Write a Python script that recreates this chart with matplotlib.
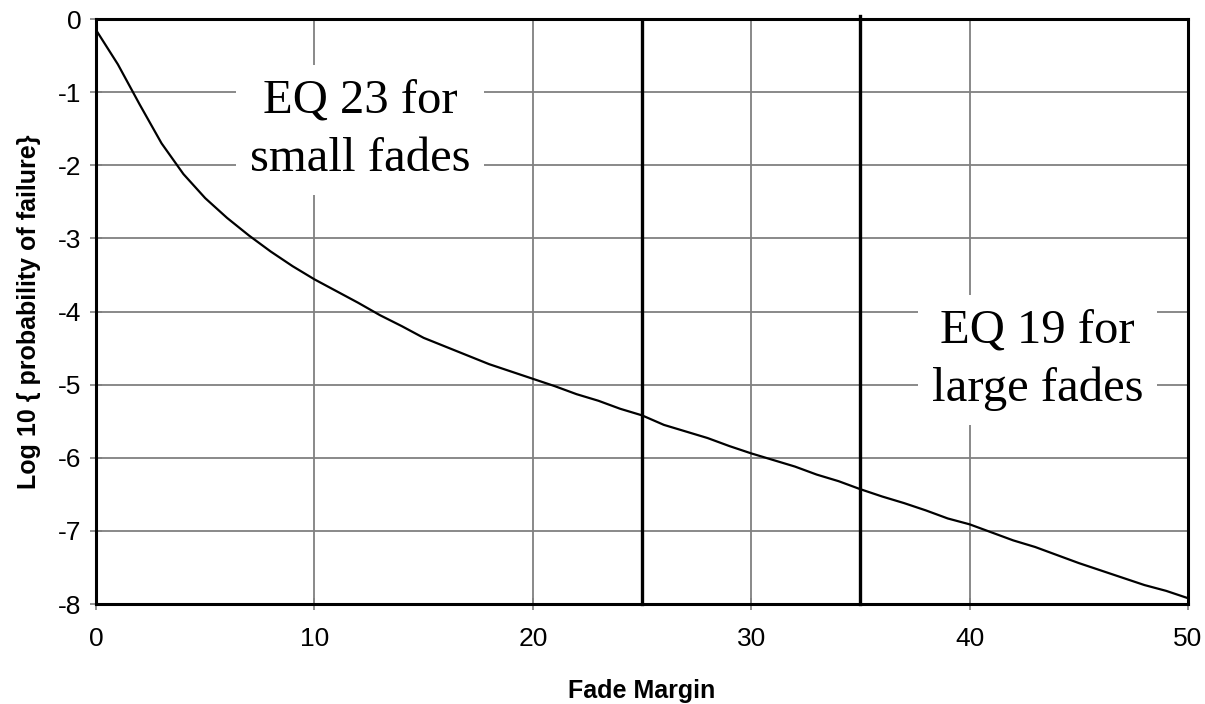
import matplotlib
matplotlib.use("Agg")
import matplotlib.pyplot as plt

fade_margin = list(range(0, 51))
log_pf = [-0.15, -0.62, -1.17, -1.70, -2.12, -2.45, -2.72, -2.96, -3.18, -3.38,
          -3.56, -3.72, -3.88, -4.05, -4.20, -4.36, -4.48, -4.60, -4.72, -4.82,
          -4.92, -5.02, -5.13, -5.22, -5.33, -5.42, -5.55, -5.64, -5.73, -5.84,
          -5.94, -6.03, -6.12, -6.23, -6.32, -6.43, -6.53, -6.62, -6.72, -6.83,
          -6.91, -7.02, -7.13, -7.22, -7.33, -7.44, -7.54, -7.64, -7.74, -7.82,
          -7.92]
divider_x = [25, 35]
divider_top = [-0.04, 0.04]
x_ticks = [0, 10, 20, 30, 40, 50]
y_ticks = [0, -1, -2, -3, -4, -5, -6, -7, -8]
labels = ["EQ 23 for\nsmall fades", "EQ 19 for\nlarge fades"]
label_pos = [(12.1, -1.52), (43.1, -4.66)]

plt.rcParams['font.family'] = ['Liberation Sans', 'DejaVu Sans']
fig = plt.figure(figsize=(12.05, 7.04), dpi=100)
ax = fig.add_axes([0.0797, 0.142, 0.9062, 0.831])

ax.set_xlim(0, 50)
ax.set_ylim(-8, 0)
ax.set_xticks(x_ticks)
ax.set_yticks(y_ticks)
ax.set_yticklabels([str(v) for v in y_ticks])
ax.grid(True, color='#808080', linewidth=1.3)
ax.set_axisbelow(True)
ax.tick_params(direction='inout', length=9, width=1.2, color='#808080',
               labelsize=19, pad=6)
ax.tick_params(axis='x', pad=12)
for s in ax.spines.values():
    s.set_linewidth(2.2)
    s.set_color('black')

ax.plot(fade_margin, log_pf, color='black', linewidth=1.6, zorder=3)

for xv, top in zip(divider_x, divider_top):
    ax.plot([xv, xv], [-8, top], color='black', linewidth=2.4, clip_on=False, zorder=4)

for txt, (xv, yv) in zip(labels, label_pos):
    ax.text(xv, yv, txt, ha='center', va='center', fontsize=35,
            family=['Liberation Serif', 'DejaVu Serif'], linespacing=1.43,
            bbox=dict(boxstyle='square,pad=0.28', facecolor='white', edgecolor='none'),
            zorder=5)

ax.set_xlabel('Fade Margin', fontsize=18, fontweight='bold', labelpad=20)
ax.set_ylabel('Log 10 { probability of failure}', fontsize=18, fontweight='bold', labelpad=12)

fig.savefig('out.png', dpi=100)
